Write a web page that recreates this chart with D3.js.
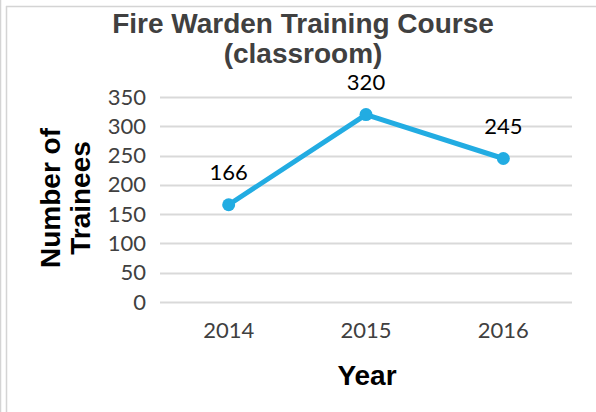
<!DOCTYPE html>
<html>
<head>
<meta charset="utf-8">
<script src="https://cdn.jsdelivr.net/npm/d3@7"></script>
<style>
body { margin: 0; background: #fff; }
svg { display: block; }
</style>
</head>
<body>
<div id="chart"></div>
<script>
var years = ["2014", "2015", "2016"];
var trainees = [166, 320, 245];
var yTicks = [0, 50, 100, 150, 200, 250, 300, 350];

var width = 596, height = 412;
var padding = {top: 97, bottom: 110, left: 160, right: 24};

var svg = d3.select("#chart").append("svg").attr("width", width).attr("height", height);

// frame lines
svg.append("line").attr("x1", 0.5).attr("x2", 0.5).attr("y1", 0).attr("y2", height)
	.style("stroke", "#d4d4d4").style("stroke-width", 1.5);
svg.append("line").attr("x1", 6.5).attr("x2", 6.5).attr("y1", 6).attr("y2", height)
	.style("stroke", "#d4d4d4").style("stroke-width", 1.5);
svg.append("line").attr("x1", 6).attr("x2", width).attr("y1", 6.5).attr("y2", 6.5)
	.style("stroke", "#d4d4d4").style("stroke-width", 1.5);

var x = d3.scaleBand().domain(years).range([padding.left, width - padding.right]);
var y = d3.scaleLinear().domain([0, 350]).range([height - padding.bottom, padding.top]);

// gridlines
svg.append("g")
	.selectAll("line")
	.data(yTicks)
	.join("line")
	.attr("x1", padding.left)
	.attr("x2", width - padding.right)
	.attr("y1", function(d) { return Math.round(y(d)) + 0.5; })
	.attr("y2", function(d) { return Math.round(y(d)) + 0.5; })
	.style("stroke", "#d9d9d9")
	.style("stroke-width", 2);

// y tick labels
var yAxis = d3.axisLeft(y).tickValues(yTicks).tickSize(0).tickPadding(14);
var gy = svg.append("g")
	.attr("transform", "translate(" + padding.left + ",0)")
	.call(yAxis);
gy.select(".domain").remove();
gy.selectAll("text")
	.style("font-family", "Lato, 'Open Sans', sans-serif")
	.style("font-size", "22px")
	.style("fill", "#404040");

// x tick labels
var xAxis = d3.axisBottom(x).tickSize(0).tickPadding(20);
var gx = svg.append("g")
	.attr("transform", "translate(0," + y(0) + ")")
	.call(xAxis);
gx.select(".domain").remove();
gx.selectAll("text")
	.style("font-family", "Lato, 'Open Sans', sans-serif")
	.style("font-size", "22px")
	.style("fill", "#404040");

// title
var title = svg.append("text")
	.attr("x", 303)
	.attr("text-anchor", "middle")
	.style("font-family", "'Liberation Sans', Arial, sans-serif")
	.style("font-weight", "bold")
	.style("font-size", "28px")
	.style("fill", "#404040");
title.append("tspan").attr("x", 303).attr("y", 33).text("Fire Warden Training Course");
title.append("tspan").attr("x", 303).attr("y", 63).text("(classroom)");

// axis titles
var ytitle = svg.append("text")
	.attr("transform", "translate(0,198) rotate(-90)")
	.attr("text-anchor", "middle")
	.style("font-family", "'Liberation Sans', Arial, sans-serif")
	.style("font-weight", "bold")
	.style("font-size", "28px")
	.style("fill", "#000");
ytitle.append("tspan").attr("x", 0).attr("y", 60).text("Number of");
ytitle.append("tspan").attr("x", 0).attr("y", 90).text("Trainees");

svg.append("text")
	.attr("x", 367)
	.attr("y", 385)
	.attr("text-anchor", "middle")
	.style("font-family", "'Liberation Sans', Arial, sans-serif")
	.style("font-weight", "bold")
	.style("font-size", "28px")
	.style("fill", "#000")
	.text("Year");

// line + markers
var line = d3.line()
	.x(function(d, i) { return x(years[i]) + x.bandwidth() / 2; })
	.y(function(d) { return y(d); });

svg.append("path")
	.datum(trainees)
	.attr("d", line)
	.style("fill", "none")
	.style("stroke", "#22ace2")
	.style("stroke-width", 5)
	.style("stroke-linejoin", "round");

svg.append("g")
	.selectAll("circle")
	.data(trainees)
	.join("circle")
	.attr("cx", function(d, i) { return x(years[i]) + x.bandwidth() / 2; })
	.attr("cy", function(d) { return y(d); })
	.attr("r", 6.5)
	.style("fill", "#22ace2");

// data labels
svg.append("g")
	.selectAll("text")
	.data(trainees)
	.join("text")
	.attr("x", function(d, i) { return x(years[i]) + x.bandwidth() / 2; })
	.attr("y", function(d) { return y(d) - 25; })
	.attr("text-anchor", "middle")
	.style("font-family", "Lato, 'Open Sans', sans-serif")
	.style("font-size", "22px")
	.style("fill", "#000")
	.text(function(d) { return d; });
</script>
</body>
</html>
